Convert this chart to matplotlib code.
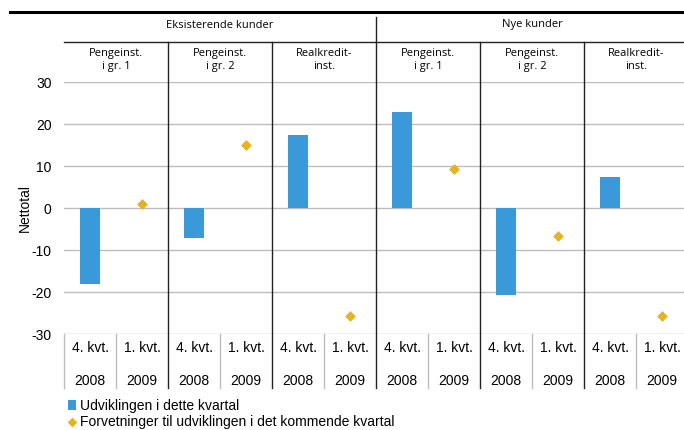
import numpy as np
import matplotlib
matplotlib.use("Agg")
import matplotlib.pyplot as plt
import matplotlib.transforms as mtransforms

plt.rcParams["font.family"] = ["Liberation Sans", "DejaVu Sans"]
plt.rcParams["axes.unicode_minus"] = False

# data
groups = ["Eksisterende kunder", "Nye kunder"]
institutions = ["Pengeinst.\ni gr. 1", "Pengeinst.\ni gr. 2", "Realkredit-\ninst."]
quarters = ["4. kvt.", "1. kvt."]
years = ["2008", "2009"]
current = [-18.0, -7.2, 17.3, 22.8, -20.8, 7.5]      # Udviklingen i dette kvartal
expected = [1.0, 15.0, -25.8, 9.2, -6.7, -25.8]      # Forventninger til kommende kvartal

blue = "#3a9ad9"
gold = "#e6b222"
grid_gray = "#bdbdbd"

W, H = 684, 430
fig = plt.figure(figsize=(W / 100, H / 100), dpi=100)


def fx(px):
    return px / W


def fy(px):
    return 1 - px / H


col_w = 52
ax = fig.add_axes([fx(64), fy(334), fx(12 * col_w), (334 - 82) / H])
ax.set_xlim(-0.5, 11.5)
ax.set_ylim(-30, 30)
for s in ax.spines.values():
    s.set_visible(False)
ax.set_yticks(np.arange(-30, 31, 10))
ax.tick_params(axis="y", length=0, pad=9, labelsize=10)
ax.set_xticks([])
for y in np.arange(-30, 31, 10):
    ax.axhline(y, color=grid_gray, lw=1, zorder=0)

n = len(current)
xb = np.arange(n) * 2
xd = np.arange(n) * 2 + 1
bars = ax.bar(xb, current, width=0.4, color=blue, zorder=3, label="Udviklingen i dette kvartal")
pts = ax.scatter(xd, expected, marker="D", s=30, color=gold, zorder=4, linewidths=0,
                 label="Forvetninger til udviklingen i det kommende kvartal")

trans = mtransforms.blended_transform_factory(ax.transData, fig.transFigure)

# column dividers in the label area and the group dividers
for i in range(12):
    b = i - 0.5
    if i % 2 == 0 and i % 6 != 0:
        ax.plot([b, b], [fy(42), fy(388)], color="#222222", lw=1, transform=trans, clip_on=False, zorder=5)
    elif i == 6:
        pass
    else:
        ax.plot([b, b], [fy(334), fy(388)], color=grid_gray, lw=1, transform=trans, clip_on=False)
ax.plot([5.5, 5.5], [fy(17), fy(388)], color="#222222", lw=1, transform=trans, clip_on=False, zorder=5)
ax.plot([-0.5, 11.5], [fy(42), fy(42)], color="#222222", lw=1, transform=trans, clip_on=False)

# top rule
fig.add_artist(plt.Line2D([fx(10), 1], [fy(12), fy(12)], color="black", lw=2.2))

hfont = ["Open Sans", "DejaVu Sans"]
for g, name in enumerate(groups):
    ax.text(g * 6 + 2.5, fy(25), name, ha="center", va="center", fontsize=8,
            family=hfont, transform=trans)
    for k, inst in enumerate(institutions):
        ax.text(g * 6 + k * 2 + 0.5, fy(60), inst, ha="center", va="center", fontsize=8,
                family=hfont, linespacing=1.15, transform=trans)

for i in range(12):
    ax.text(i, fy(348), quarters[i % 2], ha="center", va="center", fontsize=10, transform=trans)
    ax.text(i, fy(381), years[i % 2], ha="center", va="center", fontsize=10, transform=trans)

fig.text(fx(25), fy(208), "Nettotal", rotation=90, ha="center", va="center", fontsize=10)

fig.legend(handles=[bars, pts], loc="upper left", bbox_to_anchor=(fx(68), fy(399)), frameon=False,
           handlelength=0.6, handleheight=0.7, handletextpad=0.25, labelspacing=0.12,
           borderpad=0, borderaxespad=0, fontsize=10, scatterpoints=1, markerscale=0.9)

fig.savefig("out.png", dpi=100)
